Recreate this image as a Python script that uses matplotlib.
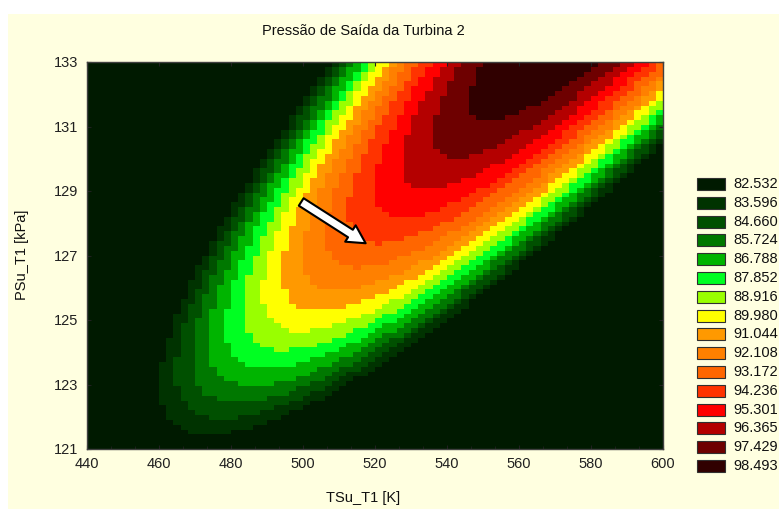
import numpy as np
import matplotlib.pyplot as plt
from matplotlib.colors import ListedColormap, BoundaryNorm
from matplotlib.patches import Rectangle
from matplotlib.ticker import MultipleLocator

plt.rcParams['font.family'] = ['Liberation Sans', 'DejaVu Sans']

# legend levels and their colours
levels = [82.532, 83.596, 84.660, 85.724, 86.788, 87.852, 88.916, 89.980,
          91.044, 92.108, 93.172, 94.236, 95.301, 96.365, 97.429, 98.493]
colors = ['#001a00', '#003300', '#005000', '#007800', '#00b400', '#00ff22',
          '#99ff00', '#ffff00', '#ff9900', '#ff8000', '#ff6600', '#ff3300',
          '#ff0000', '#b40000', '#6e0000', '#300000']

# points on the level lines (level, TSu_T1, PSu_T1)
pt_z = [82.532, 89.980, 97.429, 97.429, 95.301, 92.108,
        89.980, 88.916, 82.532,
        82.532, 82.532, 89.980, 89.980, 92.108, 92.108,
        82.532, 82.532, 97.429, 96.365, 95.301]
pt_T = [508.1, 521.9, 550.0, 580.3, 590.0, 598.3,
        599.4, 599.4, 599.4,
        476.4, 563.6, 492.8, 542.8, 501.9, 526.9,
        471.4, 460.3, 549.2, 533.3, 524.7]
pt_P = [132.91, 132.91, 132.91, 132.91, 132.91, 132.91,
        131.91, 131.67, 130.33,
        127.17, 127.17, 127.17, 127.17, 127.17, 127.17,
        121.34, 122.67, 131.36, 130.36, 129.12]

# arrow (tail, head) in data coordinates
arrow_tail = (499.5, 128.66)
arrow_head = (517.4, 127.38)


def basis(T, P):
    u = (np.asarray(T) - 520.0) / 80.0
    v = (np.asarray(P) - 127.0) / 6.0
    return np.stack([np.ones_like(u), u, v, u * u, u * v, v * v], axis=-1)


# quadratic surface fitted through the level points
coef, *_ = np.linalg.lstsq(basis(pt_T, pt_P), np.array(pt_z), rcond=None)

nx, ny = 80, 80
Te = np.linspace(440, 600, nx + 1)
Pe = np.linspace(121, 133, ny + 1)
Tc = (Te[:-1] + Te[1:]) / 2
Pc = (Pe[:-1] + Pe[1:]) / 2
TT, PP = np.meshgrid(Tc, Pc)
Z = basis(TT, PP) @ coef

W, H = 779, 509
fig = plt.figure(figsize=(W / 100, H / 100), dpi=100)
fig.patch.set_facecolor('white')
fig.add_artist(Rectangle((8 / W, 0), 1, 1 - 14 / H, transform=fig.transFigure,
                         facecolor='#ffffe0', edgecolor='none', zorder=-10))

ax = fig.add_axes([87 / W, 1 - 449 / H, 576 / W, 387 / H])
bounds = [-1e9] + levels[:-1] + [1e9]
cmap = ListedColormap(colors)
norm = BoundaryNorm(bounds, cmap.N)
ax.pcolormesh(Te, Pe, Z, cmap=cmap, norm=norm, shading='flat')
ax.set_xlim(440, 600)
ax.set_ylim(121, 133)
ax.set_xticks(np.arange(440, 601, 20))
ax.set_yticks(np.arange(121, 134, 2))
ax.xaxis.set_minor_locator(MultipleLocator(20 / 3))
ax.tick_params(direction='in', length=3, width=0.8, labelsize=10.5,
               top=True, right=True, pad=6, colors='#202020')
ax.tick_params(which='minor', direction='in', length=2, width=0.6,
               top=False, bottom=True, colors='#202020')
for s in ax.spines.values():
    s.set_color('#404040')
    s.set_linewidth(1.0)

ax.annotate('', xy=arrow_head, xytext=arrow_tail,
            arrowprops=dict(arrowstyle='simple,head_length=0.65,head_width=0.7,tail_width=0.32',
                            fc='white', ec='black', lw=1.5, shrinkA=0, shrinkB=0,
                            mutation_scale=20))

fig.text(363 / W, 1 - 31 / H, 'Pressão de Saída da Turbina 2', ha='center', va='center',
         fontsize=10.5, color='#101010')
fig.text(363 / W, 1 - 498 / H, 'TSu_T1 [K]', ha='center', va='center',
         fontsize=10.5, color='#101010')
fig.text(22 / W, 1 - 255 / H, 'PSu_T1 [kPa]', ha='center', va='center',
         rotation=90, fontsize=10.5, color='#101010')

# legend
for k, (lev, c) in enumerate(zip(levels, colors)):
    yc = 184 + 18.8 * k
    fig.add_artist(Rectangle((697 / W, 1 - (yc + 6) / H), 28 / W, 12 / H,
                             transform=fig.transFigure, facecolor=c,
                             edgecolor='#303030', linewidth=0.8))
    fig.text(733 / W, 1 - yc / H, f'{lev:.3f}', ha='left', va='center',
             fontsize=10.5, color='#101010')

fig.savefig('out.png', dpi=100)
